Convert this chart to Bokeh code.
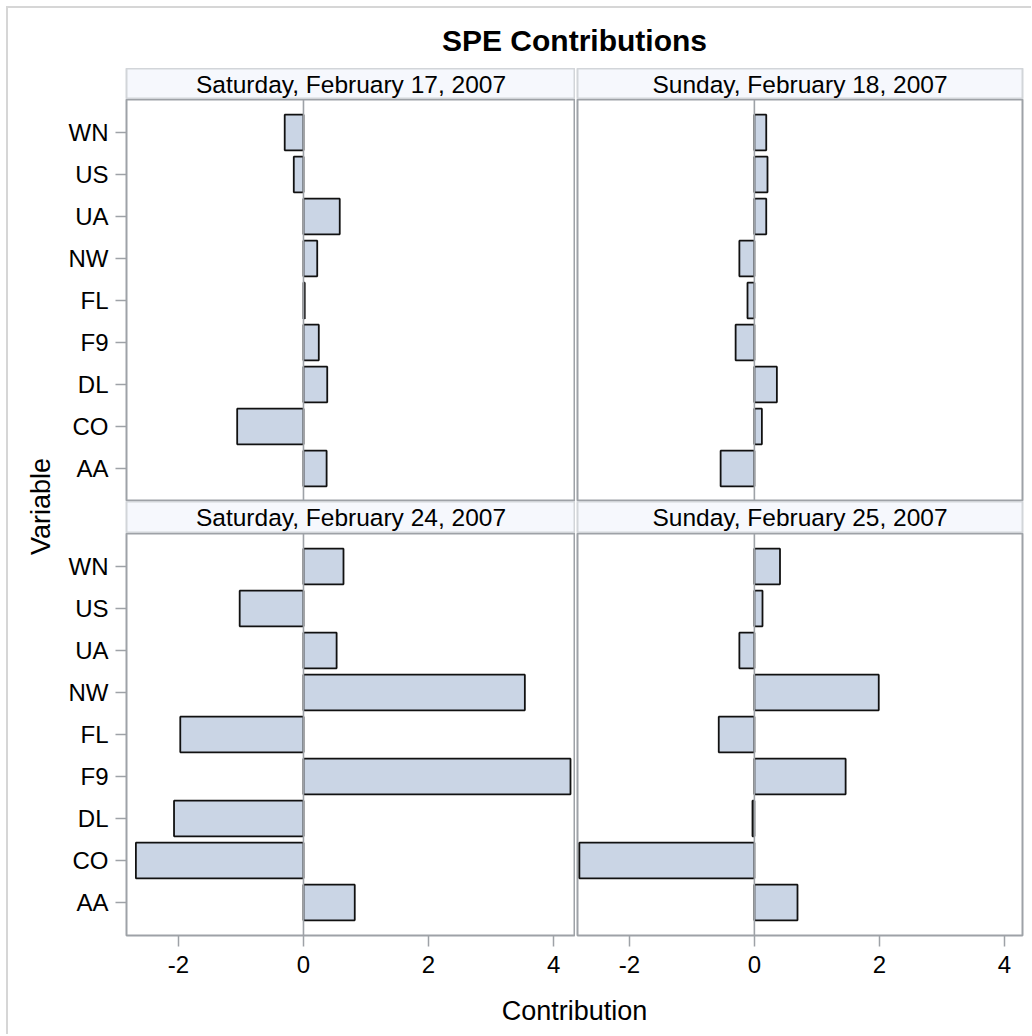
import math
from bokeh.plotting import figure
from bokeh.layouts import column, row
from bokeh.models import Range1d, FactorRange, Span, ColumnDataSource, FixedTicker
from bokeh.core.properties import value
from bokeh.embed import file_html
from bokeh.resources import INLINE

# ---------------- data ----------------
variables = ["AA", "CO", "DL", "F9", "FL", "NW", "UA", "US", "WN"]
dates = ["Saturday, February 17, 2007", "Sunday, February 18, 2007",
         "Saturday, February 24, 2007", "Sunday, February 25, 2007"]
feb17 = [0.37, -1.06, 0.38, 0.245, 0.02, 0.22, 0.58, -0.155, -0.30]
feb18 = [-0.54, 0.12, 0.36, -0.30, -0.11, -0.24, 0.19, 0.21, 0.19]
feb24 = [0.82, -2.68, -2.07, 4.27, -1.97, 3.54, 0.53, -1.02, 0.64]
feb25 = [0.69, -2.80, -0.03, 1.46, -0.57, 1.99, -0.24, 0.13, 0.41]
x_ticks = [-2, 0, 2, 4]
x_tick_labels = ["-2", "0", "2", "4"]

title_text = "SPE Contributions"
x_label = "Contribution"
y_label = "Variable"

# ---------------- style ----------------
FONT = value("Liberation Sans")
BAR_FILL = "#cad5e5"
FRAME = "#9ea2a7"
HDR_FILL = "#f6f8fd"
HDR_LINE = "#d2d5d9"
TICK_FS = "24px"
HDR_FS = "24.5px"
LBL_FS = "27px"
TITLE_FS = "30px"

AXIS_W = 68      # space for y axis
LEFT_FRAME_W = 449
RIGHT_FRAME_W = 445
GAP = 2
RPAD = 9
PANEL_H = 402
XAXIS_H = 54
XL_H = 45


def base_fig(width, height, x_range, y_range, **kw):
    p = figure(width=width, height=height, x_range=x_range, y_range=y_range,
               output_backend="svg", toolbar_location=None,
               x_axis_type=None, y_axis_type=None,
               min_border_left=0, min_border_right=0,
               min_border_top=0, min_border_bottom=0, **kw)
    p.xgrid.visible = False
    p.ygrid.visible = False
    p.border_fill_color = "white"
    return p


def make_header(text, left, h):
    w = (AXIS_W + LEFT_FRAME_W) if left else (GAP + RIGHT_FRAME_W + RPAD)
    p = base_fig(w, h, Range1d(0, 1), Range1d(0, 1))
    p.min_border_left = AXIS_W if left else GAP
    p.min_border_right = 0 if left else RPAD
    p.background_fill_color = HDR_FILL
    p.outline_line_color = HDR_LINE
    p.outline_line_width = 2
    p.text(x=[0.5], y=[0.5], text=[text], text_align="center", text_baseline="middle",
           text_font=FONT, text_font_size=HDR_FS, text_color="black")
    return p


def make_panel(vals, left, bottom):
    fw = LEFT_FRAME_W if left else RIGHT_FRAME_W
    w = (AXIS_W + fw) if left else (GAP + fw + RPAD)
    h = PANEL_H + (XAXIS_H if bottom else 0)
    xr = Range1d(-2.83, 4.35) if left else Range1d(-2.83, 4.29)
    yr = FactorRange(*variables, range_padding=0.2855, range_padding_units="absolute")
    p = figure(width=w, height=h, x_range=xr, y_range=yr,
               output_backend="svg", toolbar_location=None,
               x_axis_type="linear" if bottom else None,
               y_axis_type="auto" if left else None,
               min_border_left=AXIS_W if left else GAP,
               min_border_right=0 if left else RPAD,
               min_border_top=0, min_border_bottom=XAXIS_H if bottom else 0)
    p.xgrid.visible = False
    p.ygrid.visible = False
    p.outline_line_color = FRAME
    p.outline_line_width = 2
    src = ColumnDataSource(dict(var=variables, val=vals))
    p.hbar(y="var", left=0, right="val", height=0.85, source=src,
           fill_color=BAR_FILL, line_color="#111111", line_width=1.8)
    p.add_layout(Span(location=0, dimension="height", line_color=FRAME, line_width=1.6))
    if left:
        ax = p.yaxis[0]
        ax.axis_line_color = None
        ax.major_tick_line_color = FRAME
        ax.major_tick_line_width = 1.5
        ax.major_tick_out = 11
        ax.major_tick_in = 0
        ax.minor_tick_line_color = None
        ax.major_label_text_font = "Liberation Sans"
        ax.major_label_text_font_size = TICK_FS
        ax.major_label_text_color = "black"
        ax.major_label_standoff = 7
    if bottom:
        ax = p.xaxis[0]
        ax.ticker = FixedTicker(ticks=x_ticks)
        ax.major_label_overrides = {t: l for t, l in zip(x_ticks, x_tick_labels)}
        ax.axis_line_color = None
        ax.major_tick_line_color = FRAME
        ax.major_tick_line_width = 1.5
        ax.major_tick_out = 11
        ax.major_tick_in = 0
        ax.minor_tick_line_color = None
        ax.major_label_text_font = "Liberation Sans"
        ax.major_label_text_font_size = TICK_FS
        ax.major_label_text_color = "black"
        ax.major_label_standoff = 9
    return p


total_w = AXIS_W + LEFT_FRAME_W + GAP + RIGHT_FRAME_W + RPAD

# title
title_fig = base_fig(total_w, 60, Range1d(0, 1), Range1d(0, 1))
title_fig.min_border_left = AXIS_W
title_fig.min_border_right = RPAD
title_fig.outline_line_color = None
title_fig.text(x=[0.5], y=[0.47], text=[title_text], text_align="center", text_baseline="middle",
               text_font=FONT, text_font_size=TITLE_FS, text_font_style="bold", text_color="black")

h_tl = make_header(dates[0], True, 31)
h_tr = make_header(dates[1], False, 31)
p_tl = make_panel(feb17, True, False)
p_tr = make_panel(feb18, False, False)
h_bl = make_header(dates[2], True, 32)
h_br = make_header(dates[3], False, 32)
p_bl = make_panel(feb24, True, True)
p_br = make_panel(feb25, False, True)

# x label
xl_fig = base_fig(total_w, XL_H, Range1d(0, 1), Range1d(0, 1))
xl_fig.min_border_left = AXIS_W
xl_fig.min_border_right = RPAD
xl_fig.outline_line_color = None
xl_fig.text(x=[0.5], y=[0.533], text=[x_label], text_align="center", text_baseline="middle",
            text_font=FONT, text_font_size=LBL_FS, text_color="black")

right_col = column(title_fig, row(h_tl, h_tr), row(p_tl, p_tr), row(h_bl, h_br),
                   row(p_bl, p_br), xl_fig)

# y label
col_h = 60 + 31 + PANEL_H + 32 + PANEL_H + XAXIS_H + XL_H
yl_fig = base_fig(50, col_h, Range1d(0, 1), Range1d(0, 1))
yl_fig.outline_line_color = None
yl_fig.text(x=[0.64], y=[0.5146], text=[y_label], angle=math.pi / 2, text_align="center",
            text_baseline="middle", text_font=FONT, text_font_size=LBL_FS, text_color="black")

layout = row(yl_fig, right_col, margin=(6, 0, 0, 6),
             styles={"border-left": "2px solid #d6d6d6", "border-top": "2px solid #d6d6d6"})

open("out.html", "w").write(file_html(layout, INLINE))
